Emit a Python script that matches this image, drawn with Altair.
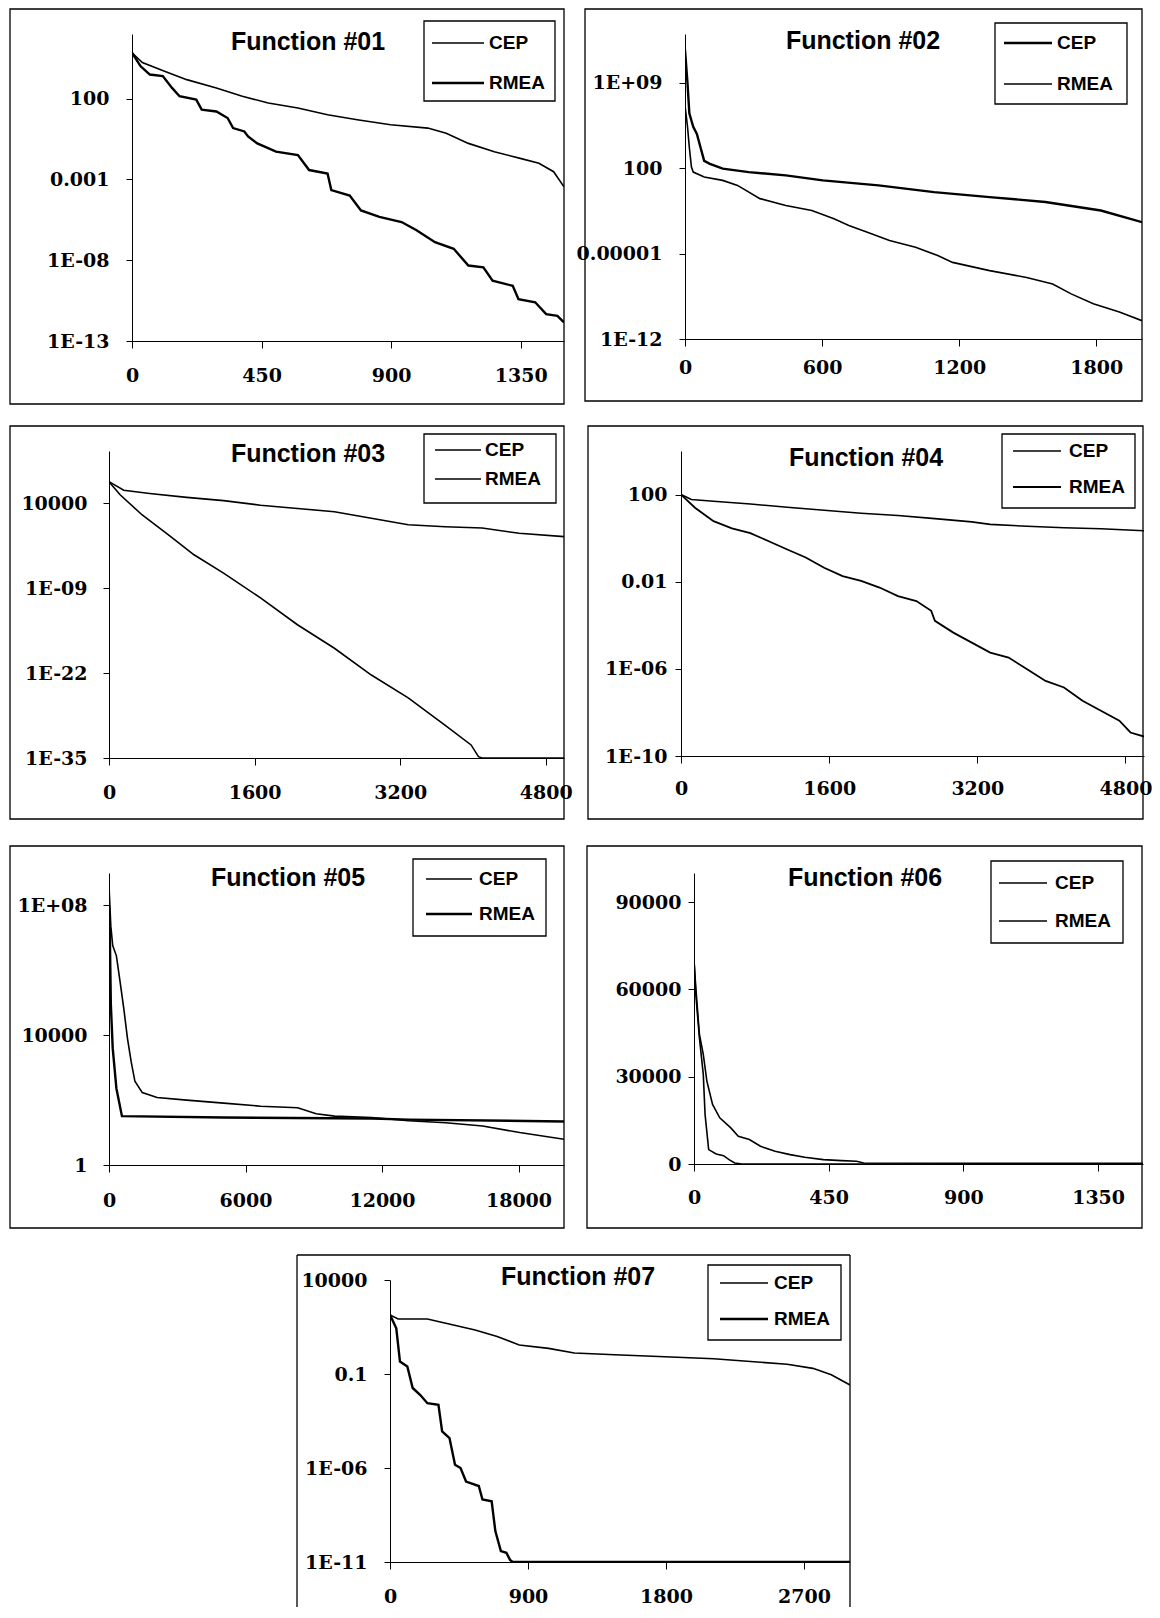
import altair as alt
import pandas as pd

SERIF = "DejaVu Serif"
SANS = "Liberation Sans"

# ---------------- data ----------------
# Function #01
f1_cep_x = [0, 36, 113, 190, 293, 383, 473, 576, 679, 782, 898, 1027, 1091, 1168, 1258, 1348, 1413, 1464, 1500]
f1_cep_y = [6.9e4, 1.7e4, 5.0e3, 1.5e3, 4.6e2, 1.4e2, 54, 26, 10, 4.9, 2.4, 1.5, 0.72, 0.17, 0.052, 0.020, 0.010, 3.0e-3, 3.5e-4]
f1_rmea_x = [0, 30, 62, 107, 139, 165, 223, 242, 293, 332, 351, 390, 403, 435, 500, 576, 615, 679, 692, 756, 795,
             859, 936, 988, 1052, 1117, 1168, 1220, 1252, 1322, 1342, 1400, 1438, 1477, 1500]
f1_rmea_y = [6.9e4, 1.0e4, 3.1e3, 2.5e3, 4.6e2, 1.4e2, 87, 21, 16, 6.3, 1.5, 0.93, 0.46, 0.17, 0.052, 0.032, 3.8e-3,
             2.3e-3, 2.2e-4, 1.0e-4, 1.2e-5, 4.8e-6, 2.3e-6, 7.1e-7, 1.3e-7, 5.1e-8, 4.7e-9, 3.6e-9, 5.4e-10,
             2.6e-10, 3.9e-11, 2.5e-11, 4.6e-12, 3.6e-12, 1.4e-12]

# Function #02
f2_cep_x = [0, 11, 19, 36, 52, 68, 84, 109, 165, 279, 441, 603, 847, 1090, 1333, 1577, 1820, 2000]
f2_cep_y = [5e11, 8.9e8, 3.2e6, 2.5e5, 6.3e4, 5.0e3, 4.0e2, 2.3e2, 91, 48, 26, 10, 3.9, 1.1, 0.43, 0.17, 0.034, 3.8e-3]
f2_rmea_x = [0, 11, 19, 28, 36, 84, 165, 230, 328, 441, 555, 652, 717, 798, 895, 1009, 1106, 1171, 1333, 1495,
             1609, 1690, 1787, 1901, 2000]
f2_rmea_y = [1.4e7, 2.5e5, 5.0e3, 1.3e2, 48, 19, 10, 3.9, 0.32, 0.089, 0.034, 7.1e-3, 2.0e-3, 5.6e-4, 1.2e-4,
             3.3e-5, 6.9e-6, 1.9e-6, 4.0e-7, 1.1e-7, 3.2e-8, 5.0e-9, 7.9e-10, 1.6e-10, 3.2e-11]

# Function #03
f3_cep_x = [0, 162, 447, 853, 1259, 1665, 2071, 2477, 2883, 3288, 3695, 4101, 4507, 5000]
f3_cep_y = [2.0e7, 1.0e6, 3.2e5, 7.9e4, 2.5e4, 5.0e3, 1.6e3, 5.0e2, 50, 5.0, 2.5, 1.6, 0.25, 0.079]
f3_rmea_x = [0, 122, 365, 650, 934, 1259, 1665, 2071, 2477, 2883, 3288, 3695, 3979, 4060, 4100, 5000]
f3_rmea_y = [2.0e7, 2.0e5, 1.6e2, 0.16, 1.3e-4, 2.0e-7, 3.2e-11, 2.5e-15, 6.3e-19, 5.0e-23, 1.6e-26, 1e-30,
             1e-33, 1.6e-35, 1e-35, 1e-35]

# Function #04
f4_cep_x = [0, 112, 351, 749, 1148, 1546, 1945, 2343, 2742, 3140, 3339, 3738, 4136, 4535, 5000]
f4_cep_y = [100, 59, 49, 37, 26, 19, 14, 11, 7.9, 5.6, 4.3, 3.5, 3.0, 2.7, 2.2]
f4_rmea_x = [0, 151, 351, 550, 749, 948, 1148, 1347, 1546, 1745, 1945, 2144, 2343, 2542, 2702, 2742, 2941, 3140,
             3339, 3538, 3738, 3937, 4136, 4336, 4535, 4734, 4854, 5000]
f4_rmea_y = [100, 25, 6.0, 2.8, 1.7, 0.72, 0.30, 0.13, 0.044, 0.018, 0.011, 5.4e-3, 2.2e-3, 1.3e-3, 4.6e-4,
             1.6e-4, 4.6e-5, 1.6e-5, 5.6e-6, 3.3e-6, 9.5e-7, 2.8e-7, 1.4e-7, 3.4e-8, 1.2e-8, 4.2e-9, 1.2e-9, 7.8e-10]

# Function #05
f5_cep_x = [0, 80, 163, 325, 488, 650, 813, 976, 1138, 1463, 2114, 3415, 5041, 6667, 8293, 9106, 9919, 11545,
            13171, 14797, 16423, 18049, 20000]
f5_cep_y = [4.0e8, 2.3e7, 5.8e6, 2.8e6, 4.4e5, 6.6e4, 7.9e3, 1.5e3, 3.8e2, 1.7e2, 1.2e2, 1.0e2, 81, 65, 58, 38,
            32, 29, 23, 20, 16, 10, 6.2]
f5_rmea_x = [0, 30, 80, 163, 325, 569, 5041, 11545, 13171, 20000]
f5_rmea_y = [1.0e8, 3.0e7, 9.3e4, 4.0e3, 2.3e2, 32, 29, 27, 25, 22]

# Function #06
f6_cep_x = [0, 6, 18, 31, 43, 62, 86, 123, 148, 185, 222, 271, 321, 370, 432, 493, 543, 567, 1500]
f6_cep_y = [70000, 60670, 44580, 37690, 28500, 20450, 15860, 12410, 9540, 8390, 6090, 4370, 3220, 2300, 1490,
            1150, 920, 345, 200]
f6_rmea_x = [0, 6, 18, 31, 37, 49, 74, 99, 117, 136, 160, 1500]
f6_rmea_y = [70000, 58370, 43430, 30800, 17000, 4940, 3450, 2870, 1490, 345, 0, 0]

# Function #07
f7_cep_x = [0, 53, 244, 364, 555, 699, 843, 1034, 1202, 1465, 1752, 2112, 2351, 2590, 2758, 2878, 3000]
f7_cep_y = [140, 85, 85, 50, 22, 9.8, 3.5, 2.3, 1.3, 1.05, 0.85, 0.65, 0.46, 0.33, 0.20, 0.091, 0.026]
f7_rmea_x = [0, 41, 65, 113, 148, 196, 244, 316, 340, 388, 424, 460, 496, 579, 603, 663, 687, 723, 759, 783,
             800, 3000]
f7_rmea_y = [140, 27, 0.46, 0.25, 0.018, 7.8e-3, 2.8e-3, 2.3e-3, 8.9e-5, 3.9e-5, 1.5e-6, 1e-6, 1.9e-7, 1.1e-7,
             2.1e-8, 1.7e-8, 4.4e-10, 3.8e-11, 3.1e-11, 1.3e-11, 1e-11, 1e-11]

series_names = ["CEP", "RMEA"]

# axis ticks / labels
f1_xt = [0, 450, 900, 1350]
f1_yt = [1e-13, 1e-8, 1e-3, 100]
f1_yl = ["1E-13", "1E-08", "0.001", "100"]
f2_xt = [0, 600, 1200, 1800]
f2_yt = [1e-12, 1e-5, 100, 1e9]
f2_yl = ["1E-12", "0.00001", "100", "1E+09"]
f3_xt = [0, 1600, 3200, 4800]
f3_yt = [1e-35, 1e-22, 1e-9, 1e4]
f3_yl = ["1E-35", "1E-22", "1E-09", "10000"]
f4_xt = [0, 1600, 3200, 4800]
f4_yt = [1e-10, 1e-6, 0.01, 100]
f4_yl = ["1E-10", "1E-06", "0.01", "100"]
f5_xt = [0, 6000, 12000, 18000]
f5_yt = [1, 1e4, 1e8]
f5_yl = ["1", "10000", "1E+08"]
f6_xt = [0, 450, 900, 1350]
f6_yt = [0, 30000, 60000, 90000]
f6_yl = ["0", "30000", "60000", "90000"]
f7_xt = [0, 900, 1800, 2700]
f7_yt = [1e-11, 1e-6, 0.1, 1e4]
f7_yl = ["1E-11", "1E-06", "0.1", "10000"]


def panel(name, cep, rmea, xdom, xticks, ydom, yticks, ylabels, log, w, h,
          frame, tpos, leg, widths, ygap, xgap, open_bottom=False):
    xs = alt.Scale(domain=xdom, nice=False, zero=False)
    if log:
        ys = alt.Scale(type="log", domain=ydom, nice=False)
    else:
        ys = alt.Scale(type="linear", domain=ydom, nice=False, zero=False)
    expr = " : ".join(f"datum.value == {v!r} ? '{l}'" for v, l in zip(yticks, ylabels)) + " : ''"
    ax_x = alt.Axis(values=xticks, format="d", title=None, grid=False, tickSize=7,
                    labelPadding=xgap - 7, labelFont=SERIF, labelFontWeight="bold",
                    labelFontSize=19, labelColor="black", domainColor="black",
                    tickColor="black", labelFlush=False, labelOverlap=False)
    ax_y = alt.Axis(values=yticks, labelExpr=expr, title=None, grid=False, tickSize=6,
                    labelPadding=ygap - 6, labelFont=SERIF, labelFontWeight="bold",
                    labelFontSize=19, labelColor="black", domainColor="black",
                    tickColor="black", labelFlush=False, labelOverlap=False)
    one = pd.DataFrame({"name": [name]})
    fl, fr, ft, fb = frame
    if open_bottom:
        layers = [
            alt.Chart(one).mark_rule(color="black", strokeWidth=1.3).encode(
                x=alt.value(fl), x2=alt.value(fr), y=alt.value(ft)),
            alt.Chart(one).mark_rule(color="black", strokeWidth=1.3).encode(
                x=alt.value(fl), y=alt.value(ft), y2=alt.value(fb)),
            alt.Chart(one).mark_rule(color="black", strokeWidth=1.3).encode(
                x=alt.value(fr), y=alt.value(ft), y2=alt.value(fb)),
        ]
    else:
        layers = [
            alt.Chart(one).mark_rect(fillOpacity=0, stroke="black", strokeWidth=1.3).encode(
                x=alt.value(fl), x2=alt.value(fr), y=alt.value(ft), y2=alt.value(fb))
        ]
    for s, (xv, yv), sw in zip(series_names, (cep, rmea), widths):
        df = pd.DataFrame({"gen": xv, "val": yv})
        layers.append(
            alt.Chart(df).mark_line(color="black", strokeWidth=sw, clip=True).encode(
                x=alt.X("gen:Q", scale=xs, axis=ax_x),
                y=alt.Y("val:Q", scale=ys, axis=ax_y))
        )
    # panel title
    layers.append(
        alt.Chart(one).mark_text(font=SANS, fontWeight="bold", fontSize=25, align="center",
                                 baseline="middle", color="black").encode(
            x=alt.value(tpos[0]), y=alt.value(tpos[1]), text="name:N")
    )
    # legend
    bl, br, bt, bb, rows, lx1, lx2, tx = leg
    layers.append(
        alt.Chart(one).mark_rect(fillOpacity=0, stroke="black", strokeWidth=1.3).encode(
            x=alt.value(bl), x2=alt.value(br), y=alt.value(bt), y2=alt.value(bb))
    )
    for s, ry, sw in zip(series_names, rows, widths):
        sdf = pd.DataFrame({"series": [s]})
        layers.append(
            alt.Chart(sdf).mark_rule(color="black", strokeWidth=sw).encode(
                x=alt.value(lx1), x2=alt.value(lx2), y=alt.value(ry))
        )
        layers.append(
            alt.Chart(sdf).mark_text(font=SANS, fontWeight="bold", fontSize=19, align="left",
                                     baseline="middle", color="black").encode(
                x=alt.value(tx), y=alt.value(ry), text="series:N")
        )
    return alt.layer(*layers).properties(width=w, height=h)


def spacer(w):
    return alt.Chart(pd.DataFrame({"a": [0]})).mark_rect(opacity=0).encode(
        x=alt.value(0), x2=alt.value(w), y=alt.value(0), y2=alt.value(1)
    ).properties(width=w, height=1)


p1 = panel("Function #01", (f1_cep_x, f1_cep_y), (f1_rmea_x, f1_rmea_y), [0, 1500], f1_xt,
           [1e-13, 1e6], f1_yt, f1_yl, True, 432, 307, (-122, 432, -25, 370), (176, 8),
           (292, 423, -13, 67, (9, 49), 300, 352, 357), (1.6, 2.4), 23, 25)
p2 = panel("Function #02", (f2_cep_x, f2_cep_y), (f2_rmea_x, f2_rmea_y), [0, 2000], f2_xt,
           [1e-12, 1e13], f2_yt, f2_yl, True, 457, 305, (-100, 457, -25, 367), (178, 7),
           (310, 442, -11, 70, (9, 50), 319, 367, 372), (2.4, 1.6), 23, 19)
p3 = panel("Function #03", (f3_cep_x, f3_cep_y), (f3_rmea_x, f3_rmea_y), [0, 5000], f3_xt,
           [1e-35, 1e12], f3_yt, f3_yl, True, 455, 307, (-99, 455, -25, 368), (199, 3),
           (315, 447, -17, 52, (-1, 28), 326, 372, 376), (1.6, 1.6), 22, 25)
p4 = panel("Function #04", (f4_cep_x, f4_cep_y), (f4_rmea_x, f4_rmea_y), [0, 5000], f4_xt,
           [1e-10, 1e4], f4_yt, f4_yl, True, 463, 305, (-93, 462, -25, 368), (185, 7),
           (321, 454, -17, 57, (0, 36), 332, 380, 388), (1.6, 1.8), 14, 23)
p5 = panel("Function #05", (f5_cep_x, f5_cep_y), (f5_rmea_x, f5_rmea_y), [0, 20000], f5_xt,
           [1, 1e9], f5_yt, f5_yl, True, 455, 292, (-99, 455, -27, 355), (179, 5),
           (304, 437, -14, 63, (6, 41), 317, 363, 370), (1.6, 2.4), 22, 26)
p6 = panel("Function #06", (f6_cep_x, f6_cep_y), (f6_rmea_x, f6_rmea_y), [0, 1500], f6_xt,
           [0, 100000], f6_yt, f6_yl, False, 449, 291, (-107, 448, -27, 355), (171, 5),
           (297, 429, -12, 70, (10, 48), 305, 353, 361), (1.6, 1.6), 13, 24)
p7 = panel("Function #07", (f7_cep_x, f7_cep_y), (f7_rmea_x, f7_rmea_y), [0, 3000], f7_xt,
           [1e-11, 1e4], f7_yt, f7_yl, True, 460, 282, (-93, 460, -25, 327), (188, -3),
           (318, 451, -15, 60, (3, 39), 330, 378, 384), (1.6, 2.4), 23, 25, open_bottom=True)

# every row starts with a spacer so that rows line up by their outer edges
row1 = alt.hconcat(spacer(1), alt.hconcat(p1, p2, spacing=11), spacing=0)
row2 = alt.hconcat(spacer(1), alt.hconcat(p3, p4, spacing=14), spacing=0)
row3 = alt.hconcat(spacer(1), alt.hconcat(p5, p6, spacing=21), spacing=0)
row4 = alt.hconcat(spacer(288), p7, spacing=0)

chart = alt.vconcat(
    row1,
    alt.vconcat(row2, row3, row4, spacing=25),
    spacing=20,
).properties(padding=0, background="white").configure_view(strokeWidth=0)

chart.save("out.html", embed_options={"renderer": "svg", "actions": False})
